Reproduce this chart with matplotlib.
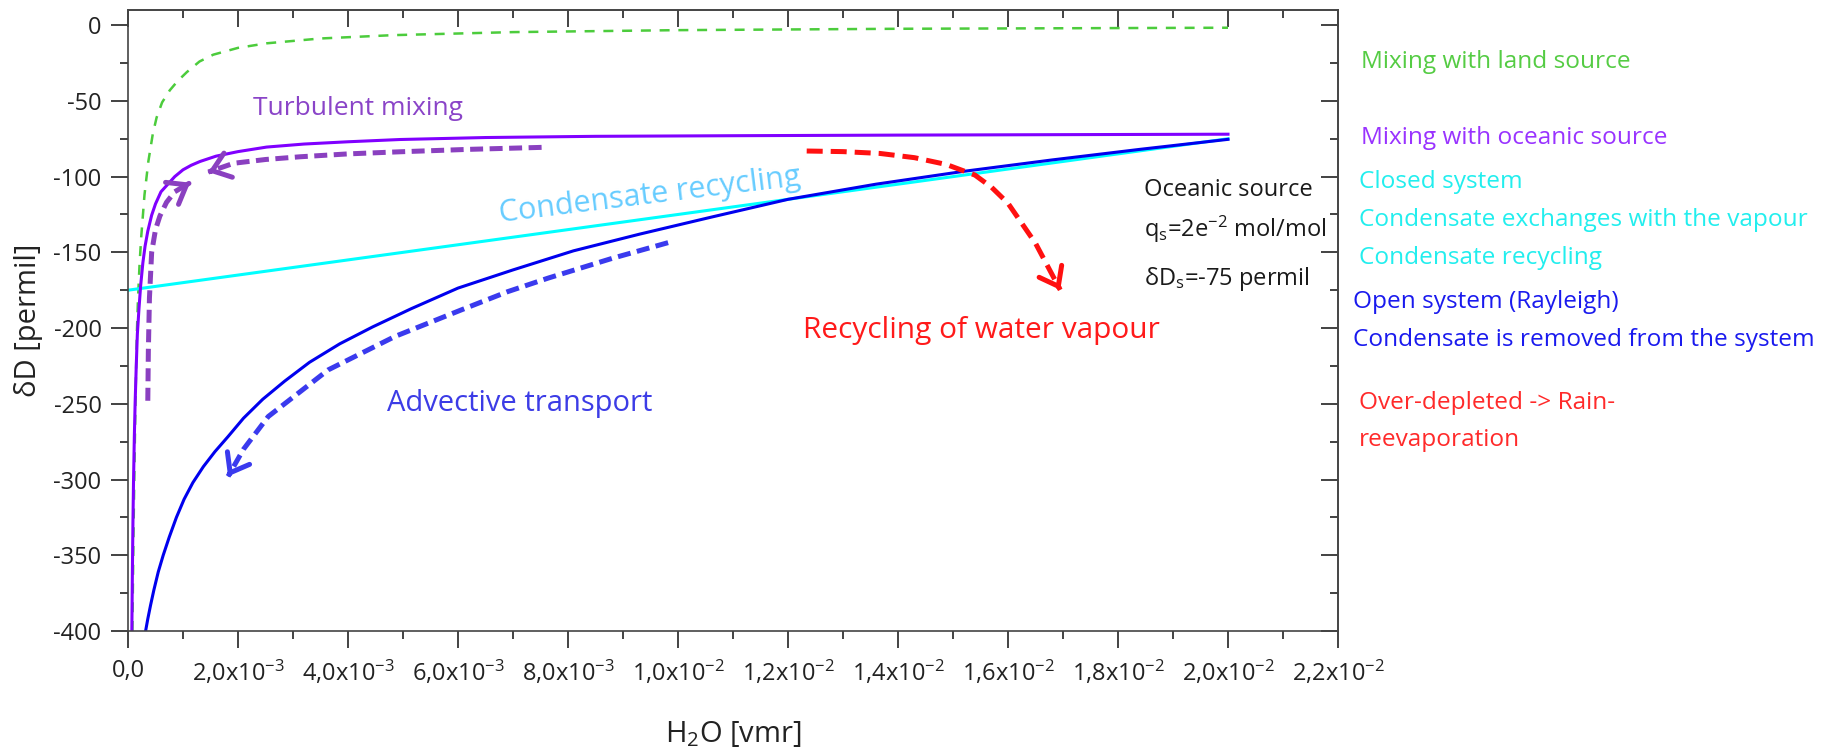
import matplotlib
matplotlib.use("Agg")
import matplotlib.pyplot as plt
import numpy as np
from matplotlib.ticker import MultipleLocator, FuncFormatter

plt.rcParams['font.family'] = ['Open Sans', 'DejaVu Sans']
plt.rcParams['mathtext.fontset'] = 'custom'
plt.rcParams['mathtext.rm'] = 'Open Sans'
plt.rcParams['mathtext.default'] = 'regular'
plt.rcParams['axes.unicode_minus'] = False

# H2O in units of 1e-3 vmr, dD in permil
land_x = [0.08, 0.10, 0.12, 0.14, 0.16, 0.18, 0.21, 0.24, 0.30, 0.37, 0.45, 0.52, 0.62,
          0.76, 0.90, 1.07, 1.30, 1.55, 2.0, 2.52, 3.5, 4.82, 7.0, 10.0, 14.0, 20.0]
land_y = [-400, -335, -285, -240, -205, -182, -158, -140, -112, -90, -72, -61, -51,
          -43, -37, -31, -24, -19.5, -15, -12, -8.8, -6.6, -4.6, -3.3, -2.4, -1.7]

ocean_x = [0.07, 0.08, 0.09, 0.10, 0.115, 0.13, 0.15, 0.17, 0.20, 0.23, 0.27, 0.31, 0.36,
           0.43, 0.50, 0.60, 0.70, 0.85, 1.0, 1.15, 1.31, 1.6, 2.0, 2.52, 3.2, 4.0, 4.95,
           6.5, 8.5, 11.0, 14.0, 17.0, 20.0]
ocean_y = [-400, -360, -328, -302, -272, -249, -225, -204, -187, -172, -157, -146, -136,
           -125.5, -118, -110, -106, -100, -95.5, -92.5, -90, -86.5, -83.5, -80.5, -78.5,
           -77, -75.5, -74.2, -73.4, -73, -72.6, -72.3, -72]

closed_x = [0, 5, 10, 15, 20]
closed_y = [-175, -150, -125, -100, -75]

open_x = [0.32, 0.36, 0.41, 0.47, 0.55, 0.64, 0.75, 0.88, 1.02, 1.18, 1.37, 1.58, 1.82,
          2.1, 2.45, 2.85, 3.3, 3.85, 4.45, 5.15, 6.0, 7.0, 8.1, 9.3, 10.6, 12.0, 13.6,
          15.2, 16.8, 18.4, 20.0]
open_y = [-400, -392, -383, -373, -361, -350, -338, -325, -313, -302, -291.5, -281.6, -271.6,
          -259.5, -247, -235, -222.6, -210.4, -199.2, -187.2, -173.6, -161.6, -149, -138,
          -126.8, -115, -105, -96.5, -89, -82, -75.4]

# process arrows
turb_h_x = [7.52, 6.2, 4.95, 4.0, 3.13, 2.5, 1.92, 1.46]
turb_h_y = [-80.7, -82, -83.6, -85, -86.9, -88.7, -91.2, -97.0]
turb_v_x = [0.36, 0.37, 0.39, 0.43, 0.50, 0.58, 0.70, 0.85, 1.13]
turb_v_y = [-248, -215, -180, -150, -135, -126, -117, -110, -104]
adv_x = [9.82, 8.8, 7.64, 6.9, 6.06, 4.85, 3.64, 2.55, 2.1, 1.82]
adv_y = [-143.6, -154, -167, -176, -188, -205.6, -227.6, -258.4, -280, -297.9]
recyc_x = [12.34, 13.0, 13.67, 14.3, 14.88, 15.4, 15.7, 16.0, 16.5, 16.95]
recyc_y = [-83.1, -83.5, -84.7, -87.5, -92, -99, -107, -117.6, -144, -174.8]

x_ticks = [0, 2, 4, 6, 8, 10, 12, 14, 16, 18, 20, 22]

side_labels = ['Mixing with land source', 'Mixing with oceanic source', 'Closed system',
               'Condensate exchanges with the vapour', 'Condensate recycling',
               'Open system (Rayleigh)', 'Condensate is removed from the system',
               'Over-depleted -> Rain-', 'reevaporation']
side_colors = ['#55cc44', '#9933ff', '#22eeee', '#22eeee', '#22eeee',
               '#1a1aee', '#1a1aee', '#ff2a2a', '#ff2a2a']
side_x = [1361, 1361, 1359, 1359, 1359, 1353, 1353, 1359, 1359]
side_y = [61.7, 138.3, 181.7, 220, 258.3, 301.7, 340, 403.3, 440]

W, H = 1829, 749
fig = plt.figure(figsize=(W / 100, H / 100), dpi=100)
ax = fig.add_axes([128 / W, 1 - 631 / H, (1338 - 128) / W, (631 - 10) / H])

s = 1e-3
ax.plot(np.array(land_x) * s, land_y, color='#4ccc3c', lw=1.8, dashes=(4, 3.5))
ax.plot(np.array(closed_x) * s, closed_y, color='#00ffff', lw=2.2)
ax.plot(np.array(open_x) * s, open_y, color='#0000ee', lw=2.2)
ax.plot(np.array(ocean_x) * s, ocean_y, color='#8000ff', lw=2.2)


def dashed_arrow(xs, ys, color, dashes):
    xs = np.array(xs) * s
    ax.plot(xs, ys, color=color, lw=3.6, dashes=dashes, solid_capstyle='butt')
    back = (xs[-1] - 0.08 * (xs[-1] - xs[-2]), ys[-1] - 0.08 * (ys[-1] - ys[-2]))
    ax.annotate('', xy=(xs[-1], ys[-1]), xytext=back,
                arrowprops=dict(arrowstyle='->,head_length=0.45,head_width=0.34',
                                color=color, lw=3.6, mutation_scale=27,
                                shrinkA=0, shrinkB=0))


dashed_arrow(turb_h_x, turb_h_y, '#8a40c0', (2.6, 1.3))
dashed_arrow(turb_v_x, turb_v_y, '#8a40c0', (2.6, 1.3))
dashed_arrow(adv_x, adv_y, '#3a3aee', (2.6, 1.3))
dashed_arrow(recyc_x, recyc_y, '#ff1010', (3.2, 1.6))

ax.set_xlim(0, 0.022)
ax.set_ylim(-400, 10)


def xfmt(v, pos):
    if abs(v) < 1e-12:
        return '0,0'
    exp = int(np.floor(np.log10(v) + 1e-9))
    mant = v / 10 ** exp
    return ('%.1f' % mant).replace('.', ',') + 'x10$^{%d}$' % exp


ax.set_xticks(np.array(x_ticks) * s)
ax.xaxis.set_major_formatter(FuncFormatter(xfmt))
ax.xaxis.set_minor_locator(MultipleLocator(1e-3))
ax.yaxis.set_major_locator(MultipleLocator(50))
ax.yaxis.set_minor_locator(MultipleLocator(25))
ax.tick_params(which='major', direction='out', length=12, width=1.2, labelsize=17,
               colors='#222222', pad=7)
ax.tick_params(which='minor', direction='out', length=6, width=1.2, colors='#222222')
ax.tick_params(axis='x', which='major', pad=8)

top = ax.secondary_xaxis('top')
top.set_xticks(np.array(x_ticks) * s)
top.xaxis.set_minor_locator(MultipleLocator(1e-3))
top.tick_params(which='major', direction='in', length=12, width=1.2, labeltop=False,
                colors='#222222')
top.tick_params(which='minor', direction='in', length=6, width=1.2, colors='#222222')
right = ax.secondary_yaxis('right')
right.yaxis.set_major_locator(MultipleLocator(50))
right.yaxis.set_minor_locator(MultipleLocator(25))
right.tick_params(which='major', direction='in', length=12, width=1.2, labelright=False,
                  colors='#222222')
right.tick_params(which='minor', direction='in', length=6, width=1.2, colors='#222222')
for a in (ax, top, right):
    for sp in a.spines.values():
        sp.set_color('#444444')
        sp.set_linewidth(1.2)

ax.set_xlabel('H$_2$O [vmr]', fontsize=21, color='#222222', va='center')
ax.xaxis.set_label_coords(0.5, -0.166)
ax.set_ylabel('δD [permil]', fontsize=21, color='#222222', va='center')
ax.yaxis.set_label_coords(-0.0826, 0.5)

ax.text(2.27e-3, -59.4, 'Turbulent mixing', color='#8a44c8', fontsize=19)
ax.text(6.76e-3, -130, 'Condensate recycling', color='#66ccff', fontsize=22,
        rotation=7, rotation_mode='anchor')
ax.text(4.7e-3, -255, 'Advective transport', color='#3c3ce6', fontsize=21)
ax.text(12.28e-3, -206.5, 'Recycling of water vapour', color='#ff1a1a', fontsize=21.5)
ax.text(18.47e-3, -113, 'Oceanic source', color='#1a1a1a', fontsize=17)
ax.text(18.47e-3, -139.6, 'q$_s$=2e$^{-2}$ mol/mol', color='#1a1a1a', fontsize=17)
ax.text(18.47e-3, -171.5, 'δD$_s$=-75 permil', color='#1a1a1a', fontsize=17)

for lab, col, px, py in zip(side_labels, side_colors, side_x, side_y):
    fig.text(px / W, 1 - py / H, lab, color=col, fontsize=17.6, va='center', ha='left')

fig.savefig('out.png', dpi=100)
